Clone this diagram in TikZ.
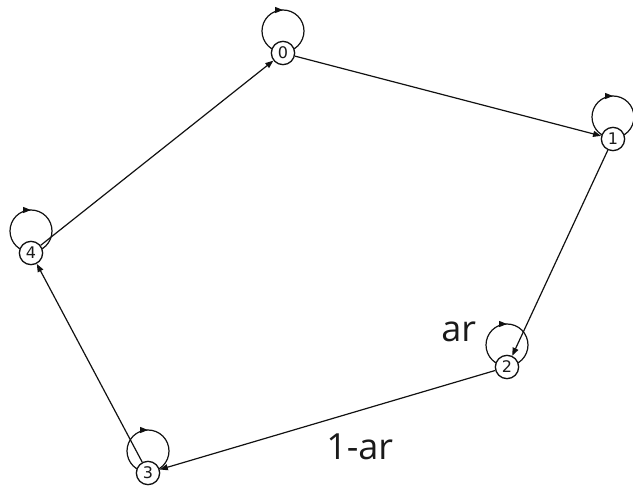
\documentclass[tikz,border=0pt]{standalone}
\usepackage{fontspec}
\setmainfont{Open Sans}
\newfontfamily\statefont{DejaVu Sans}
\usepackage{tikz}
\usetikzlibrary{arrows.meta,backgrounds,calc,decorations.markings}
\definecolor{LineDark}{HTML}{111111}
\definecolor{TextDark}{HTML}{1A1A1A}

\begin{document}
\begin{tikzpicture}[x=0.75pt,y=0.75pt,
    state/.style={circle, draw=LineDark, line width=1pt, fill=white,
                  minimum size=17.5pt, inner sep=0pt, text=TextDark,
                  font=\statefont\fontsize{12pt}{14pt}\selectfont},
    link/.style={draw=LineDark, line width=0.9pt,
                 -{Triangle[length=6pt,width=4.5pt]}},
    selfloop/.style={draw=LineDark, line width=0.9pt,
                     decoration={markings, mark=at position 0.25 with
                       {\arrowreversed{Triangle[length=6pt,width=4.5pt]}}},
                     postaction=decorate},
    weight/.style={inner sep=0pt, text=TextDark,
                   font=\fontsize{27pt}{30pt}\selectfont}]
  \useasboundingbox (0,0) rectangle (633,486);

  % states
  \node[state] (n0) at (283,433) {0};
  \node[state] (n1) at (613,347) {1};
  \node[state] (n2) at (507,119) {2};
  \node[state] (n3) at (148,13) {3};
  \node[state] (n4) at (31,233) {4};

  % self loops, behind the states
  \begin{scope}[on background layer]
    \foreach \s in {0,...,4}
      \draw[selfloop] ($(n\s)+(0,22)$) circle[radius=15.75pt];
  \end{scope}

  % transitions
  \draw[link] (n0) -- (n1);
  \draw[link] (n1) -- (n2);
  \draw[link] (n2) -- (n3);
  \draw[link] (n3) -- (n4);
  \draw[link] (n4) -- (n0);

  % weights
  \node[weight, anchor=base west] (wstay) at (441,144) {ar};
  \node[weight, anchor=base west] (wmove) at (326,26) {1-ar};
\end{tikzpicture}
\end{document}
